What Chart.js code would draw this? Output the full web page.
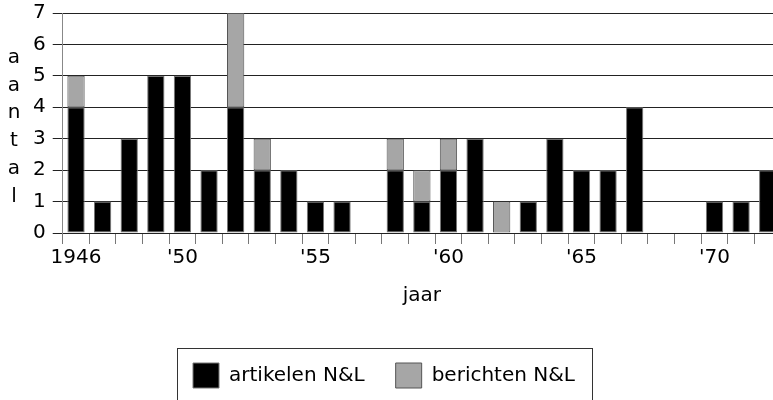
<!DOCTYPE html>
<html>
<head>
<meta charset="utf-8">
<script src="https://cdn.jsdelivr.net/npm/chart.js@4/dist/chart.umd.min.js"></script>
<style>
html,body{margin:0;padding:0;background:#fff;overflow:hidden;}
#wrap{width:781px;height:400px;position:relative;}
</style>
</head>
<body>
<div id="wrap"><canvas id="c"></canvas></div>
<script>
const years = [1946,1947,1948,1949,1950,1951,1952,1953,1954,1955,1956,1957,1958,1959,1960,1961,1962,1963,1964,1965,1966,1967,1968,1969,1970,1971,1972];
const artikelen = [4,1,3,5,5,2,4,2,2,1,1,0,2,1,2,3,0,1,3,2,2,4,0,0,1,1,2];
const berichten = [1,0,0,0,0,0,3,1,0,0,0,0,1,1,1,0,1,0,0,0,0,0,0,0,0,0,0];
const tickLabels = {1946:'1946',1950:"'50",1955:"'55",1960:"'60",1965:"'65",1970:"'70"};
const yTitle = ['a','a','n','t','a','l'];
const xTitle = 'jaar';
const FONT = "'DejaVu Sans', sans-serif";
const LEGEND_CENTER = 384;

const yTitlePlugin = {
  id:'yTitleStack',
  afterDraw(chart){
    const ctx = chart.ctx;
    ctx.save();
    ctx.font = "20px " + FONT;
    ctx.fillStyle = '#000';
    ctx.textAlign = 'center';
    ctx.textBaseline = 'middle';
    const ca = chart.chartArea;
    const mid = (ca.top + ca.bottom)/2 + 4;
    const step = 27.8;
    const n = yTitle.length;
    yTitle.forEach((ch,i)=>{
      ctx.fillText(ch, 14, mid + (i-(n-1)/2)*step);
    });
    ctx.restore();
  }
};
const legendBox = {
  id:'legendBox',
  afterUpdate(chart){
    const lg = chart.legend;
    if(!lg) return;
    const d = (lg.left + lg.right)/2 - LEGEND_CENTER;
    lg.left -= d; lg.right -= d;
    (lg.legendHitBoxes||[]).forEach(h=>{h.left -= d;});
  },
  afterDraw(chart){
    const lg = chart.legend;
    if(!lg || !lg.legendHitBoxes || !lg.legendHitBoxes.length) return;
    const hb = lg.legendHitBoxes;
    let l = Infinity, r = -Infinity, t = Infinity, b = -Infinity;
    hb.forEach(h=>{l=Math.min(l,h.left);r=Math.max(r,h.left+h.width);t=Math.min(t,h.top);b=Math.max(b,h.top+h.height);});
    const ctx = chart.ctx;
    ctx.save();
    ctx.strokeStyle = '#333';
    ctx.lineWidth = 1;
    ctx.strokeRect(Math.round(l-16)+0.5, Math.round(t-15)+0.5, Math.round(r-l+33), Math.round(b-t+30));
    ctx.restore();
  }
};

new Chart(document.getElementById('c'), {
  type:'bar',
  data:{
    labels: years.map(String),
    datasets:[
      {label:'artikelen N&L', data: artikelen.map(v=>v||null), backgroundColor:'#000', borderColor:'#777', borderWidth:1, borderSkipped:false, barPercentage:0.65, categoryPercentage:1},
      {label:'berichten N&L', data: berichten.map(v=>v||null), backgroundColor:'#a6a6a6', borderColor:'#555', borderWidth:1, borderSkipped:false, barPercentage:0.65, categoryPercentage:1}
    ]
  },
  options:{
    responsive:true, maintainAspectRatio:false, animation:false,
    layout:{padding:{left:26, right:0, top:0, bottom:2}},
    plugins:{
      legend:{position:'bottom', labels:{boxWidth:26, boxHeight:25, padding:31, color:'#000', font:{family:FONT, size:20}}},
      tooltip:{enabled:false}
    },
    scales:{
      x:{stacked:true, offset:true,
        grid:{drawOnChartArea:false, drawTicks:true, tickLength:11, color:'#777', offset:true},
        border:{display:true, color:'#222'},
        ticks:{autoSkip:false, maxRotation:0, minRotation:0, padding:2, color:'#000', font:{family:FONT, size:20},
          callback:(v,i)=> tickLabels[years[i]] || ''},
        title:{display:true, text:xTitle, color:'#000', font:{family:FONT, size:20}, padding:{top:12, bottom:24}}
      },
      y:{stacked:true, min:0, max:7,
        afterFit(scale){ scale.paddingTop = 13; },
        grid:{color:'#222', tickLength:10},
        border:{display:true, color:'#888'},
        ticks:{stepSize:1, padding:7, color:'#000', font:{family:FONT, size:20}}
      }
    }
  },
  plugins:[yTitlePlugin, legendBox]
});
</script>
</body>
</html>
